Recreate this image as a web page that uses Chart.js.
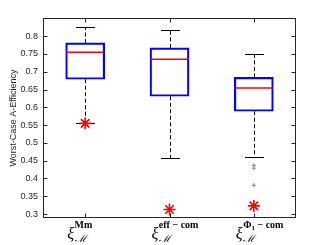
<!DOCTYPE html>
<html><head><meta charset="utf-8">
<script src="https://cdn.jsdelivr.net/npm/chart.js@4/dist/chart.umd.min.js"></script>
<style>html,body{margin:0;padding:0;background:#fff}#wrap{width:327px;height:245px;position:relative}</style>
</head><body><div id="wrap"><canvas id="c" width="327" height="245"></canvas></div>
<script>
// ---- data ----
const categories = ['Mm', 'eff-com', 'Phi1-com'];
const whiskerHigh = [0.825, 0.818, 0.751];
const q3 = [0.781, 0.767, 0.684];
const median = [0.755, 0.735, 0.654];
const q1 = [0.679, 0.631, 0.589];
const whiskerLow = [0.555, 0.457, 0.461];
const outlierCat = ['Phi1-com', 'Phi1-com', 'Phi1-com'];
const outlierVal = [0.437, 0.429, 0.381];
const starValues = [0.555, 0.313, 0.323];
const yTicks = [0.3, 0.35, 0.4, 0.45, 0.5, 0.55, 0.6, 0.65, 0.7, 0.75, 0.8];
const yTickLabels = ['0.3', '0.35', '0.4', '0.45', '0.5', '0.55', '0.6', '0.65', '0.7', '0.75', '0.8'];
const yTitle = 'Worst-Case A-Efficiency';
const labelBase = 'ξ';
const labelSub = 'ℳ';
const labelSupMain = ['Mm', 'eff', 'Φ'];
const labelSupIdx = ['', '', '1'];
const labelSupTail = ['', ' − com', ' − com'];

const AX = '#262626';

const boxPlugin = {
  id: 'boxparts',
  beforeDatasetsDraw(chart) {
    const {ctx, scales: {x, y}} = chart;
    ctx.save();
    ctx.strokeStyle = '#000';
    ctx.lineWidth = 1;
    categories.forEach((c, i) => {
      const cx = Math.round(x.getPixelForValue(i)) + 0.5;
      ctx.setLineDash([4, 2.5]);
      ctx.beginPath();
      ctx.moveTo(cx, y.getPixelForValue(q3[i]));
      ctx.lineTo(cx, y.getPixelForValue(whiskerHigh[i]));
      ctx.moveTo(cx, y.getPixelForValue(q1[i]));
      ctx.lineTo(cx, y.getPixelForValue(whiskerLow[i]));
      ctx.stroke();
      ctx.setLineDash([]);
      ctx.beginPath();
      const hy = Math.round(y.getPixelForValue(whiskerHigh[i])) + 0.5;
      const ly = Math.round(y.getPixelForValue(whiskerLow[i])) + 0.5;
      ctx.moveTo(cx - 9.5, hy); ctx.lineTo(cx + 9.5, hy);
      ctx.moveTo(cx - 9.5, ly); ctx.lineTo(cx + 9.5, ly);
      ctx.stroke();
    });
    ctx.restore();
  },
  afterDatasetsDraw(chart) {
    const {ctx, scales: {x, y}} = chart;
    ctx.save();
    ctx.strokeStyle = '#ff0000';
    ctx.lineWidth = 1.5;
    categories.forEach((c, i) => {
      const cx = x.getPixelForValue(i);
      const my = y.getPixelForValue(median[i]);
      ctx.beginPath();
      ctx.moveTo(cx - 19, my); ctx.lineTo(cx + 19, my);
      ctx.stroke();
    });
    ctx.restore();
  },
  afterDraw(chart) {
    const {ctx, chartArea: a, scales: {x, y}} = chart;
    ctx.save();
    ctx.strokeStyle = AX;
    ctx.lineWidth = 1;
    const L = Math.round(a.left) + 0.5, R = Math.round(a.right) - 0.5;
    const T = Math.round(a.top) + 0.5, B = Math.round(a.bottom) - 0.5;
    ctx.strokeRect(L, T, R - L, B - T);
    ctx.beginPath();
    yTicks.forEach(v => {
      const py = Math.round(y.getPixelForValue(v)) + 0.5;
      ctx.moveTo(L, py); ctx.lineTo(L + 4, py);
      ctx.moveTo(R, py); ctx.lineTo(R - 4, py);
    });
    categories.forEach((c, i) => {
      const px = Math.round(x.getPixelForValue(i)) + 0.5;
      ctx.moveTo(px, B); ctx.lineTo(px, B - 4);
      ctx.moveTo(px, T); ctx.lineTo(px, T + 4);
    });
    ctx.stroke();
    // x labels
    ctx.fillStyle = '#000';
    ctx.textBaseline = 'alphabetic';
    ctx.textAlign = 'left';
    categories.forEach((c, i) => {
      const cx = x.getPixelForValue(i);
      let px = cx - 18;
      const base = B + 21;
      ctx.font = 'italic 16px "Liberation Serif"';
      ctx.fillText(labelBase, px, base);
      px += ctx.measureText(labelBase).width + 0.5;
      ctx.font = 'italic 10px "DejaVu Serif"';
      ctx.fillText(labelSub, px, base + 3);
      ctx.font = 'bold 10px "Liberation Serif"';
      const supY = base - 11;
      ctx.fillText(labelSupMain[i], px, supY);
      let sx = px + ctx.measureText(labelSupMain[i]).width;
      if (labelSupIdx[i]) {
        ctx.font = 'bold 7px "Liberation Serif"';
        ctx.fillText(labelSupIdx[i], sx, supY + 2);
        sx += ctx.measureText(labelSupIdx[i]).width;
      }
      ctx.font = 'bold 10px "Liberation Serif"';
      ctx.fillText(labelSupTail[i], sx, supY);
    });
    ctx.restore();
  }
};

new Chart(document.getElementById('c'), {
  type: 'bar',
  data: {
    labels: categories,
    datasets: [
      {
        data: q1.map((v, i) => [v, q3[i]]),
        backgroundColor: 'rgba(0,0,0,0)',
        borderColor: '#0000ff',
        borderWidth: 1.5,
        borderSkipped: false,
        barThickness: 39,
        order: 3
      },
      {
        type: 'line', showLine: false,
        data: outlierVal.map((v, i) => ({x: outlierCat[i], y: v})),
        pointStyle: 'cross', radius: 2.2, borderColor: '#8c8c8c', borderWidth: 1,
        order: 2
      },
      {
        type: 'line', showLine: false,
        data: starValues.map((v, i) => ({x: categories[i], y: v})),
        pointStyle: 'star', radius: 6, borderColor: '#ff0000', borderWidth: 1.6,
        order: 1
      }
    ]
  },
  options: {
    responsive: false, animation: false, devicePixelRatio: 1,
    layout: {padding: {top: 18, right: 31, left: 0, bottom: 0}},
    plugins: {legend: {display: false}, tooltip: {enabled: false}},
    scales: {
      x: {
        type: 'category', offset: true,
        grid: {display: false, drawTicks: false}, border: {display: false},
        ticks: {display: false},
        afterFit: s => { s.height = 27; }
      },
      y: {
        min: 0.289, max: 0.851,
        grid: {display: false, drawTicks: false}, border: {display: false},
        afterBuildTicks: s => { s.ticks = yTicks.map(v => ({value: v})); },
        ticks: {
          callback: (v, i) => yTickLabels[i],
          font: {family: 'Liberation Sans', size: 9}, color: AX, padding: 5
        },
        title: {display: true, text: yTitle, font: {family: 'Liberation Sans', size: 9}, color: AX, padding: {top: 8, bottom: 2}},
        afterFit: s => { s.width = 43; }
      }
    }
  },
  plugins: [boxPlugin]
});
</script>
</body></html>
